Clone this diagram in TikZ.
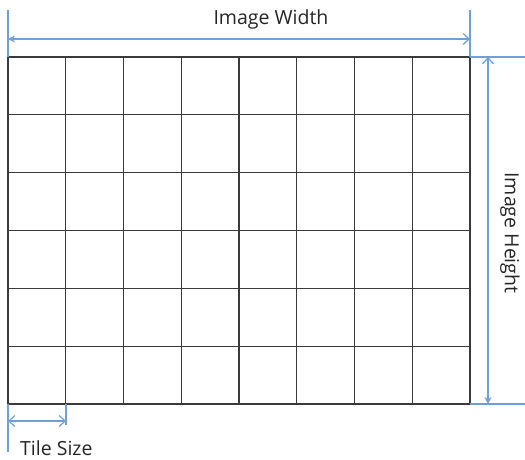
\documentclass[tikz,border=0pt]{standalone}
\usepackage{fontspec}
\setmainfont{Open Sans}
\usetikzlibrary{arrows.meta}
\definecolor{dimblue}{HTML}{6F9FD8}
\definecolor{gridgray}{HTML}{3A3A3A}
\tikzset{
  gridline/.style={draw=gridgray, line width=1.1pt},
  dimline/.style={draw=dimblue, line width=1.2pt},
  dimarrow/.style={dimline, arrows={Stealth[length=7pt,width=7pt]-Straight Barb[length=6pt,width=11pt]}},
  lbl/.style={font=\fontsize{19.5pt}{22pt}\selectfont, text=black!85, inner sep=0pt}
}
\begin{document}
\begin{tikzpicture}[x=1pt,y=-1pt]
\useasboundingbox (0,0) rectangle (525,460);
% grid
\coordinate (TL) at (8,57);
\coordinate (BR) at (470,404);
\foreach \i in {0,...,8} {
  \draw[gridline] ({8+\i*57.75},57) -- ({8+\i*57.75},404);
}
\foreach \j in {0,...,6} {
  \draw[gridline] (8,{57+\j*57.83}) -- (470,{57+\j*57.83});
}
% width dimension
\coordinate (wl1) at (8,10); \coordinate (wl2) at (8,57);
\coordinate (wr1) at (470,10); \coordinate (wr2) at (470,57);
\draw[dimline] (wl1) -- (wl2);
\draw[dimline] (wr1) -- (wr2);
\coordinate (wa) at (8,39); \coordinate (wb) at (470,39);
\draw[dimarrow] (wa) -- (wb);
\node[lbl] (wlabel) at (271,19) {Image Width};
% height dimension
\coordinate (ht1) at (470,57); \coordinate (ht2) at (525,57);
\coordinate (hb1) at (470,404); \coordinate (hb2) at (525,404);
\draw[dimline] (ht1) -- (ht2);
\draw[dimline] (hb1) -- (hb2);
\coordinate (ha) at (488,404); \coordinate (hb) at (488,57);
\draw[dimarrow] (ha) -- (hb);
\node[lbl, rotate=-90] (hlabel) at (510,233) {Image Height};
% tile size
\coordinate (t1) at (8,404); \coordinate (t2) at (8,452);
\coordinate (t3) at (66,404); \coordinate (t4) at (66,425);
\draw[dimline] (t1) -- (t2);
\draw[dimline] (t3) -- (t4);
\coordinate (ta) at (8,421); \coordinate (tb) at (66,421);
\draw[dimline, arrows={Straight Barb[length=6pt,width=11pt]-Straight Barb[length=6pt,width=11pt]}] (ta) -- (tb);
\node[lbl, anchor=west] (tlabel) at (20,448) {Tile Size};
\end{tikzpicture}
\end{document}
